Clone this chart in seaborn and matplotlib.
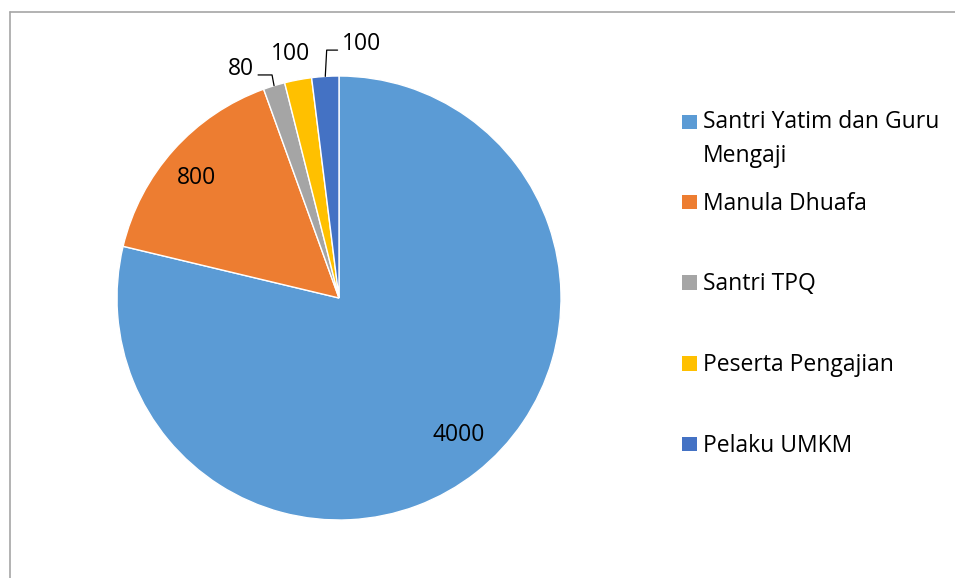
import textwrap
import numpy as np
import matplotlib
matplotlib.use("Agg")
import matplotlib.pyplot as plt
from matplotlib.patches import Rectangle
from matplotlib.lines import Line2D
import seaborn as sns

# Data
categories = ["Santri Yatim dan Guru Mengaji", "Manula Dhuafa", "Santri TPQ",
              "Peserta Pengajian", "Pelaku UMKM"]
values = [4000, 800, 80, 100, 100]
colors = ["#5B9BD5", "#ED7D31", "#A5A5A5", "#FFC000", "#4472C4"]

sns.set_theme(style="white")
plt.rcParams['font.family'] = ['Open Sans', 'DejaVu Sans']
plt.rcParams['text.color'] = 'black'

W, H = 955, 578
fig = plt.figure(figsize=(W / 100, H / 100), dpi=100)

# chart border (only top and left edges are visible in the crop)
bx, by = 9.5 / W, 1 - 11.5 / H
fig.add_artist(Line2D([bx, 1.01], [by, by], transform=fig.transFigure, color="#A6A6A6", lw=1.2))
fig.add_artist(Line2D([bx, bx], [by, -0.01], transform=fig.transFigure, color="#A6A6A6", lw=1.2))

cx, cy, r = 339, 298, 222
ax = fig.add_axes([(cx - r) / W, (H - cy - r) / H, 2 * r / W, 2 * r / H])
palette = sns.color_palette(colors)
wedges, _ = ax.pie(values, colors=palette, startangle=90, counterclock=False,
                   wedgeprops=dict(edgecolor="white", linewidth=1))
ax.set_xlim(-1, 1)
ax.set_ylim(-1, 1)
ax.set_aspect("equal")
ax.axis("off")

fs = 16.5


def polar(rad, deg):
    a = np.deg2rad(deg)
    return rad * np.cos(a), rad * np.sin(a)


# inside / plain labels: (radius, angle offset)
# leader labels: (elbow radius, elbow angle offset, horizontal length)
placement = [("in", 0.82, 2.8), ("in", 0.84, 1.6), ("lead", 1.049, -0.3, -0.063),
             ("in", 1.12, 0.5), ("lead", 1.118, -0.7, 0.049)]
for w, v, p in zip(wedges, values, placement):
    mid = (w.theta1 + w.theta2) / 2
    if p[0] == "in":
        tx, ty = polar(p[1], mid + p[2])
        ax.text(tx, ty, str(v), ha="center", va="center", fontsize=fs)
    else:
        ex, ey = polar(1.0, mid)
        kx, ky = polar(p[1], mid + p[2])
        hx = kx + p[3]
        ax.plot([ex, kx, hx], [ey, ky, ky], color="black", lw=0.9, clip_on=False)
        side = np.sign(p[3])
        ax.text(hx + side * 0.018, ky + 0.028, str(v), fontsize=fs, va="center",
                ha="left" if side > 0 else "right")

# legend
leg_y = [122, 202, 282.5, 363.5, 444]
pitch = 32
for lab, col, y in zip(categories, colors, leg_y):
    fig.patches.append(Rectangle((682 / W, 1 - (y + 7.25) / H), 14.5 / W, 14.5 / H,
                                 transform=fig.transFigure, facecolor=col, edgecolor="none"))
    txt = textwrap.fill(lab, 21)
    nl = txt.count("\n")
    fig.text(703 / W, 1 - (y + 7.5 + nl * pitch) / H, txt, ha="left", va="baseline",
             fontsize=fs, linespacing=1.51)

fig.savefig("out.png", dpi=100)
